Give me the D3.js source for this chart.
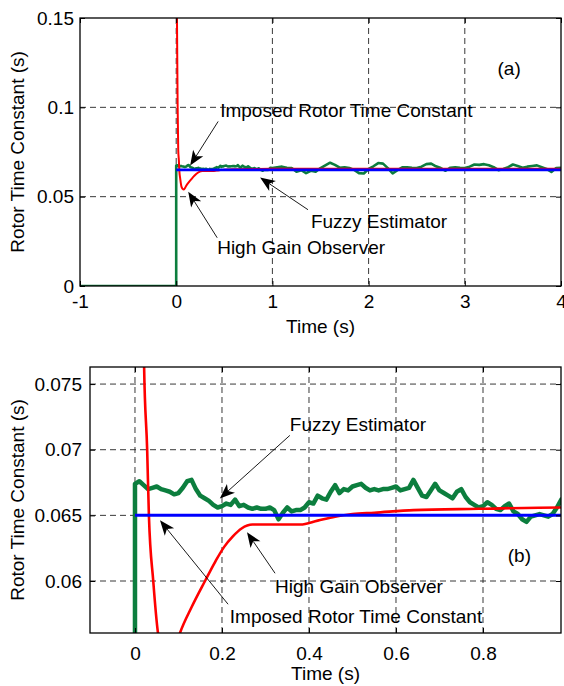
<!DOCTYPE html>
<html>
<head>
<meta charset="utf-8">
<script src="https://cdn.jsdelivr.net/npm/d3@7"></script>
<style>
  body { margin: 0; background: #fff; }
  text { font-family: "Liberation Sans", Arial, sans-serif; fill: #000; }
</style>
</head>
<body>
<script>
// ---- data ----
// fuzzy estimator, 0 .. 0.98 s every 10 ms
const fuzzyFine = [
  0.0674, 0.0676, 0.0673, 0.0670, 0.0671, 0.0672, 0.0670, 0.0669, 0.0668, 0.0666,
  0.0667, 0.0671, 0.0676, 0.0677, 0.0670, 0.0665, 0.0663, 0.0661, 0.0658, 0.0656,
  0.0657, 0.0659, 0.0658, 0.0662, 0.0657, 0.0658, 0.0656, 0.0655, 0.0656, 0.0655,
  0.0655, 0.0656, 0.0654, 0.0647, 0.0652, 0.0656, 0.0653, 0.0654, 0.0654, 0.0656,
  0.0660, 0.0659, 0.0665, 0.0663, 0.0662, 0.0668, 0.0673, 0.0667, 0.0670, 0.0669,
  0.0672, 0.0673, 0.0674, 0.0671, 0.0669, 0.0670, 0.0669, 0.0670, 0.0670, 0.0671,
  0.0672, 0.0669, 0.0670, 0.0671, 0.0677, 0.0671, 0.0665, 0.0664, 0.0669, 0.0674,
  0.0669, 0.0667, 0.0665, 0.0663, 0.0668, 0.0670, 0.0664, 0.0660, 0.0658, 0.0656,
  0.0657, 0.0660, 0.0658, 0.0655, 0.0654, 0.0657, 0.0659, 0.0653, 0.0651, 0.0647,
  0.0645, 0.0649, 0.0650, 0.0651, 0.0650, 0.0649, 0.0651, 0.0656, 0.0662
];
// fuzzy estimator, 1 .. 4 s every 50 ms
const fuzzyCoarse = [
  0.0660, 0.0665, 0.0668, 0.0662, 0.0660, 0.0640, 0.0648, 0.0632, 0.0645, 0.0640,
  0.0660, 0.0675, 0.0690, 0.0678, 0.0662, 0.0665, 0.0660, 0.0650, 0.0632, 0.0630,
  0.0655, 0.0670, 0.0688, 0.0685, 0.0660, 0.0630, 0.0648, 0.0664, 0.0665, 0.0662,
  0.0660, 0.0668, 0.0682, 0.0685, 0.0670, 0.0660, 0.0645, 0.0662, 0.0665, 0.0662,
  0.0660, 0.0668, 0.0680, 0.0678, 0.0682, 0.0676, 0.0665, 0.0648, 0.0655, 0.0665,
  0.0680, 0.0672, 0.0662, 0.0668, 0.0672, 0.0675, 0.0665, 0.0655, 0.0638, 0.0660,
  0.0662
];
// high gain observer
const highGainTime  = [0, 0.008, 0.015, 0.021, 0.028, 0.032, 0.042, 0.053, 0.065, 0.08,
                       0.095, 0.103, 0.13, 0.161, 0.185, 0.205, 0.225, 0.245, 0.27, 0.30,
                       0.38, 0.42, 0.46, 0.50, 0.55, 0.64, 0.79, 0.98, 4];
const highGainValue = [0.20, 0.15, 0.10, 0.0763, 0.070, 0.065, 0.060, 0.056, 0.0545, 0.054,
                       0.0552, 0.056, 0.058, 0.060, 0.0615, 0.0626, 0.0634, 0.0640, 0.0643, 0.0643,
                       0.0643, 0.0646, 0.0649, 0.0651, 0.0652, 0.0654, 0.0655, 0.0656, 0.0656];
// imposed rotor time constant
const imposedTime  = [0, 4];
const imposedValue = [0.065, 0.065];

// axes
const topXTicks = [-1, 0, 1, 2, 3, 4];
const topXLabels = ["-1", "0", "1", "2", "3", "4"];
const topYTicks = [0, 0.05, 0.1, 0.15];
const topYLabels = ["0", "0.05", "0.1", "0.15"];
const botXTicks = [0, 0.2, 0.4, 0.6, 0.8];
const botXLabels = ["0", "0.2", "0.4", "0.6", "0.8"];
const botYTicks = [0.06, 0.065, 0.07, 0.075];
const botYLabels = ["0.06", "0.065", "0.07", "0.075"];

const GREEN = "#0c7e3e", RED = "#ff0000", BLUE = "#0000ff";
const FONT = 19;

const fuzzyPts = [[-1, 0], [0, 0]]
  .concat(fuzzyFine.map((v, i) => [i * 0.01, v]))
  .concat(fuzzyCoarse.map((v, i) => [1 + i * 0.05, v]));
const highGainPts = highGainTime.map((t, i) => [t, highGainValue[i]]);
const imposedPts = imposedTime.map((t, i) => [t, imposedValue[i]]);

const svg = d3.select("body").append("svg")
  .attr("width", 564)
  .attr("height", 686);

function drawArrow(g, x, y, tail, tip) {
  const x0 = x(tail[0]), y0 = y(tail[1]);
  const x1 = x(tip[0]), y1 = y(tip[1]);
  const a = Math.atan2(y1 - y0, x1 - x0);
  const L = 15, W = 6, N = 11;
  const pt = (d, w) => [x1 - d * Math.cos(a) - w * Math.sin(a), y1 - d * Math.sin(a) + w * Math.cos(a)];
  g.append("line")
    .attr("x1", x0).attr("y1", y0)
    .attr("x2", pt(N, 0)[0]).attr("y2", pt(N, 0)[1])
    .attr("stroke", "#000").attr("stroke-width", 0.9);
  g.append("path")
    .attr("d", "M" + [x1, y1] + "L" + pt(L, W) + "L" + pt(N, 0) + "L" + pt(L, -W) + "Z")
    .attr("fill", "#000");
}

function panel(opt) {
  const { x, y, id } = opt;
  const [l, r] = x.range();
  const [b, t] = y.range();
  const g = svg.append("g");

  // grid
  g.selectAll(".gx").data(opt.xTicks.filter(d => x(d) > l + 1 && x(d) < r - 1)).enter()
    .append("line")
    .attr("x1", d => x(d)).attr("x2", d => x(d))
    .attr("y1", t).attr("y2", b)
    .attr("stroke", "#222").attr("stroke-width", 0.9).attr("stroke-dasharray", "6,4");
  g.selectAll(".gy").data(opt.yTicks.filter(d => y(d) < b - 1 && y(d) > t + 1)).enter()
    .append("line")
    .attr("x1", l).attr("x2", r)
    .attr("y1", d => y(d)).attr("y2", d => y(d))
    .attr("stroke", "#222").attr("stroke-width", 0.9).attr("stroke-dasharray", "6,4");

  // series
  svg.append("clipPath").attr("id", id).append("rect")
    .attr("x", l).attr("y", t).attr("width", r - l).attr("height", b - t);
  const line = d3.line().x(d => x(d[0])).y(d => y(d[1]));
  const smooth = d3.line().x(d => x(d[0])).y(d => y(d[1])).curve(d3.curveMonotoneX);
  const lg = g.append("g").attr("clip-path", `url(#${id})`);
  lg.append("path").attr("d", line(fuzzyPts)).attr("fill", "none")
    .attr("stroke", GREEN).attr("stroke-width", opt.gw).attr("stroke-linejoin", "round");
  lg.append("path").attr("d", smooth(highGainPts)).attr("fill", "none")
    .attr("stroke", RED).attr("stroke-width", opt.rw);
  lg.append("path").attr("d", line(imposedPts)).attr("fill", "none")
    .attr("stroke", BLUE).attr("stroke-width", opt.bw);

  // axes with inward ticks
  const ax = (gen, tr) => g.append("g").attr("transform", tr).call(gen)
    .attr("font-size", FONT).attr("font-family", "Liberation Sans, Arial, sans-serif")
    .call(s => s.select(".domain").remove());
  ax(d3.axisBottom(x).tickValues(opt.xTicks).tickFormat((d, i) => opt.xLabels[i])
      .tickSize(-5).tickPadding(opt.xPad), `translate(0,${b})`);
  ax(d3.axisTop(x).tickValues(opt.xTicks).tickFormat("").tickSize(-5), `translate(0,${t})`);
  ax(d3.axisLeft(y).tickValues(opt.yTicks).tickFormat((d, i) => opt.yLabels[i])
      .tickSize(-5).tickPadding(opt.yPad), `translate(${l},0)`);
  ax(d3.axisRight(y).tickValues(opt.yTicks).tickFormat("").tickSize(-5), `translate(${r},0)`);
  g.selectAll(".tick line").attr("stroke", "#000");
  g.selectAll(".tick text").attr("fill", "#000");

  g.append("rect").attr("x", l).attr("y", t).attr("width", r - l).attr("height", b - t)
    .attr("fill", "none").attr("stroke", "#000").attr("stroke-width", 1.3);

  // labels
  g.append("text").attr("x", (l + r) / 2).attr("y", opt.xLabelY)
    .attr("text-anchor", "middle").attr("font-size", FONT).text("Time (s)");
  g.append("text")
    .attr("transform", `translate(${opt.yLabelX},${(t + b) / 2}) rotate(-90)`)
    .attr("text-anchor", "middle").attr("font-size", FONT).text("Rotor Time Constant (s)");

  // annotations
  opt.notes.forEach(n => {
    g.append("text").attr("x", x(n.at[0])).attr("y", y(n.at[1]))
      .attr("font-size", FONT).text(n.text);
    if (n.tail) drawArrow(g, x, y, n.tail, n.tip);
  });
}

panel({
  id: "clipA",
  x: d3.scaleLinear().domain([-1, 4]).range([80, 561]),
  y: d3.scaleLinear().domain([0, 0.15]).range([286, 18]),
  xTicks: topXTicks, xLabels: topXLabels, yTicks: topYTicks, yLabels: topYLabels,
  xPad: 9, yPad: 6, xLabelY: 333, yLabelX: 24,
  gw: 2.6, rw: 2, bw: 2.6,
  notes: [
    { text: "Imposed Rotor Time Constant", at: [0.457, 0.0944], tail: [0.436, 0.0921], tip: [0.145, 0.0674] },
    { text: "High Gain Observer", at: [0.426, 0.018], tail: [0.426, 0.027], tip: [0.125, 0.0528] },
    { text: "Fuzzy Estimator", at: [1.40, 0.0326], tail: [1.37, 0.0427], tip: [0.872, 0.0607] },
    { text: "(a)", at: [3.34, 0.118] }
  ]
});

panel({
  id: "clipB",
  x: d3.scaleLinear().domain([-0.1034, 0.9793]).range([90, 561]),
  y: d3.scaleLinear().domain([0.05604, 0.0763]).range([633, 367]),
  xTicks: botXTicks, xLabels: botXLabels, yTicks: botYTicks, yLabels: botYLabels,
  xPad: 14, yPad: 8, xLabelY: 680, yLabelX: 24,
  gw: 4.5, rw: 2.6, bw: 3,
  notes: [
    { text: "Fuzzy Estimator", at: [0.356, 0.07139], tail: [0.356, 0.07109], tip: [0.195, 0.06629] },
    { text: "High Gain Observer", at: [0.322, 0.05906], tail: [0.322, 0.06059], tip: [0.2575, 0.06371] },
    { text: "Imposed Rotor Time Constant", at: [0.218, 0.05678], tail: [0.214, 0.05823], tip: [0.0575, 0.06462] },
    { text: "(b)", at: [0.857, 0.06142] }
  ]
});
</script>
</body>
</html>
